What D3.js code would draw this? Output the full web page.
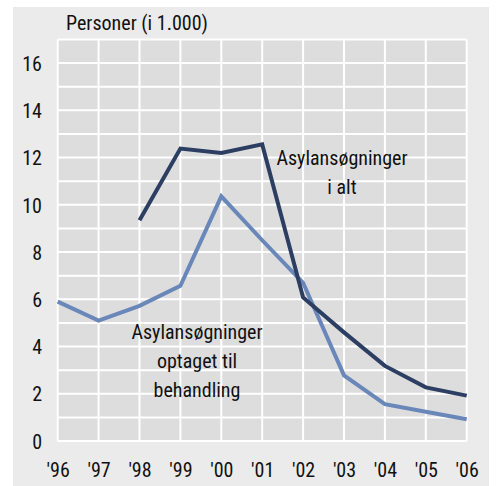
<!DOCTYPE html>
<html>
    <head>
        <meta charset="utf-8">
        <title></title>
        <style>
         body { margin: 0; background: #fff; }
         text { font-family: "Liberation Sans Narrow", "Roboto Condensed", "Liberation Sans", sans-serif; fill: #111; }
         .grid line { stroke: #fff; stroke-width: 2px; }
        </style>
    </head>
    <body>
        <svg width="496" height="486"></svg>

        <script src="https://cdn.jsdelivr.net/npm/d3@7"></script>
        <script>

         // data
         var years = [1996, 1997, 1998, 1999, 2000, 2001, 2002, 2003, 2004, 2005, 2006];
         var yearLabels = ["'96", "'97", "'98", "'99", "'00", "'01", "'02", "'03", "'04", "'05", "'06"];
         var iAlt = [null, null, 9.35, 12.38, 12.2, 12.56, 6.08, 4.6, 3.18, 2.27, 1.92];
         var optaget = [5.9, 5.1, 5.72, 6.57, 10.36, 8.5, 6.7, 2.78, 1.56, 1.24, 0.92];
         var yTicks = [0, 2, 4, 6, 8, 10, 12, 14, 16];

         var svg = d3.select('svg');

         var plotLeft = 57.7, plotRight = 466.7, plotTop = 39.5, plotBottom = 441;

         var x = d3.scaleLinear().domain([1996, 2006]).range([plotLeft, plotRight]);
         var y = d3.scaleLinear().domain([0, 17]).range([plotBottom, plotTop]);

         // backgrounds
         svg.append('rect')
            .attr('x', 13).attr('y', 7)
            .attr('width', 476).attr('height', 486)
            .attr('fill', '#ebebeb');

         svg.append('rect')
            .attr('x', plotLeft).attr('y', plotTop)
            .attr('width', plotRight - plotLeft).attr('height', plotBottom - plotTop)
            .attr('fill', '#dddddd');

         // grid
         var grid = svg.append('g').attr('class', 'grid');
         grid.selectAll('line.h')
             .data(d3.range(0, 18))
             .enter()
             .append('line')
             .attr('x1', plotLeft).attr('x2', plotRight)
             .attr('y1', function(d) { return y(d); })
             .attr('y2', function(d) { return y(d); });
         grid.selectAll('line.v')
             .data(years)
             .enter()
             .append('line')
             .attr('y1', plotTop).attr('y2', plotBottom)
             .attr('x1', function(d) { return x(d); })
             .attr('x2', function(d) { return x(d); });

         // axes
         var yAxis = d3.axisLeft(y).tickValues(yTicks).tickSize(0).tickPadding(0);
         var gy = svg.append('g')
                     .attr('transform', 'translate(42,0)')
                     .call(yAxis);
         gy.select('.domain').remove();
         gy.selectAll('text')
           .attr('font-size', 20)
           .attr('dy', '0.36em')
           .style('font-family', null);

         var xAxis = d3.axisBottom(x).tickValues(years).tickSize(0)
                       .tickFormat(function(d, i) { return yearLabels[i]; });
         var gx = svg.append('g')
                     .attr('transform', 'translate(0,463)')
                     .call(xAxis);
         gx.select('.domain').remove();
         gx.selectAll('text')
           .attr('font-size', 20)
           .attr('dy', '0.71em')
           .attr('y', 0)
           .style('font-family', null);

         svg.selectAll('.tick text').attr('fill', '#111');

         // lines
         var line = d3.line()
                      .defined(function(d) { return d[1] != null; })
                      .x(function(d) { return x(d[0]); })
                      .y(function(d) { return y(d[1]); });

         svg.append('path')
            .datum(years.map(function(yr, i) { return [yr, optaget[i]]; }))
            .attr('d', line)
            .attr('fill', 'none')
            .attr('stroke', '#6a87ba')
            .attr('stroke-width', 4);

         svg.append('path')
            .datum(years.map(function(yr, i) { return [yr, iAlt[i]]; }))
            .attr('d', line)
            .attr('fill', 'none')
            .attr('stroke', '#2c3f63')
            .attr('stroke-width', 4);

         // texts
         svg.append('text')
            .attr('x', 66).attr('y', 30)
            .attr('font-size', 20)
            .text('Personer (i 1.000)');

         function label(lines, cx, cy) {
             svg.append('g').selectAll('text')
                .data(lines)
                .enter()
                .append('text')
                .attr('x', cx)
                .attr('y', function(d, i) { return cy + i * 29; })
                .attr('dy', '0.36em')
                .attr('text-anchor', 'middle')
                .attr('font-size', 20)
                .text(function(d) { return d; });
         }
         label(['Asylansøgninger', 'i alt'], 342, 158);
         label(['Asylansøgninger', 'optaget til', 'behandling'], 197, 332);

        </script>
    </body>
</html>
